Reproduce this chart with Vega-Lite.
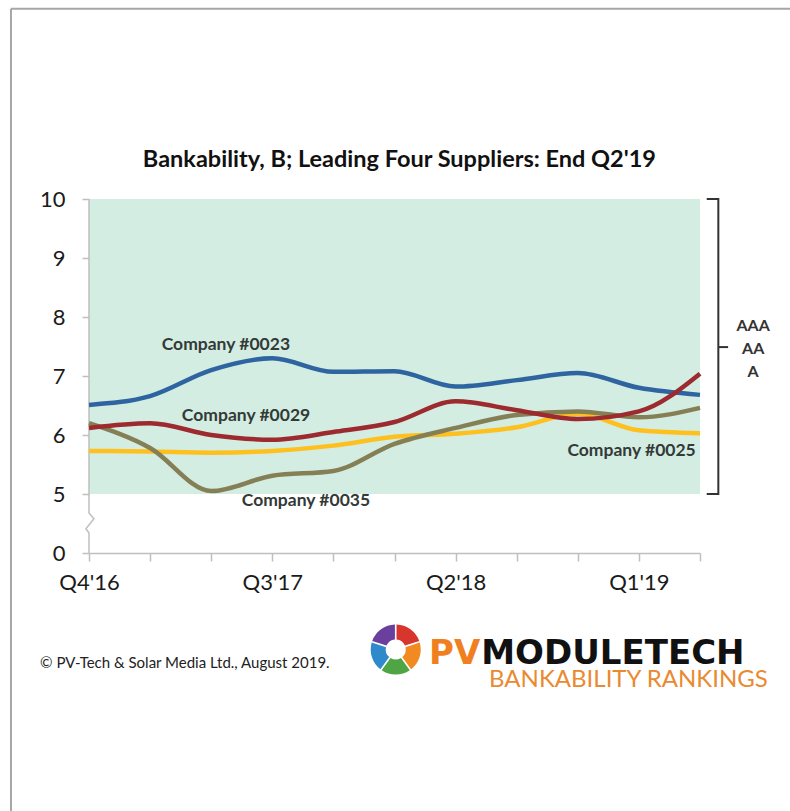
{
  "$schema": "https://vega.github.io/schema/vega-lite/v6.json",
  "width": 611,
  "height": 354,
  "autosize": "none",
  "padding": {"left": 89, "top": 199, "right": 90, "bottom": 258},
  "background": "white",
  "config": {
    "view": {"stroke": null},
    "font": "Lato",
    "axis": {"grid": false, "labelFont": "Lato", "labelFontSize": 22, "labelColor": "#1a1a1a", "tickColor": "#BFBFBF", "domainColor": "#BFBFBF", "tickWidth": 1.5, "domainWidth": 1.5, "labelOverlap": false}
  },
  "datasets": {
    "series": [
      {"q": 0, "company": "Company #0023", "b": 6.51},
      {"q": 1, "company": "Company #0023", "b": 6.66},
      {"q": 2, "company": "Company #0023", "b": 7.1},
      {"q": 3, "company": "Company #0023", "b": 7.3},
      {"q": 4, "company": "Company #0023", "b": 7.07},
      {"q": 5, "company": "Company #0023", "b": 7.08},
      {"q": 6, "company": "Company #0023", "b": 6.82},
      {"q": 7, "company": "Company #0023", "b": 6.93},
      {"q": 8, "company": "Company #0023", "b": 7.05},
      {"q": 9, "company": "Company #0023", "b": 6.8},
      {"q": 10, "company": "Company #0023", "b": 6.68},
      {"q": 0, "company": "Company #0025", "b": 5.73},
      {"q": 1, "company": "Company #0025", "b": 5.72},
      {"q": 2, "company": "Company #0025", "b": 5.7},
      {"q": 3, "company": "Company #0025", "b": 5.73},
      {"q": 4, "company": "Company #0025", "b": 5.82},
      {"q": 5, "company": "Company #0025", "b": 5.97},
      {"q": 6, "company": "Company #0025", "b": 6.02},
      {"q": 7, "company": "Company #0025", "b": 6.13},
      {"q": 8, "company": "Company #0025", "b": 6.36},
      {"q": 9, "company": "Company #0025", "b": 6.08},
      {"q": 10, "company": "Company #0025", "b": 6.03},
      {"q": 0, "company": "Company #0035", "b": 6.2},
      {"q": 1, "company": "Company #0035", "b": 5.78},
      {"q": 2, "company": "Company #0035", "b": 5.05},
      {"q": 3, "company": "Company #0035", "b": 5.31},
      {"q": 4, "company": "Company #0035", "b": 5.39},
      {"q": 5, "company": "Company #0035", "b": 5.85},
      {"q": 6, "company": "Company #0035", "b": 6.12},
      {"q": 7, "company": "Company #0035", "b": 6.34},
      {"q": 8, "company": "Company #0035", "b": 6.4},
      {"q": 9, "company": "Company #0035", "b": 6.3},
      {"q": 10, "company": "Company #0035", "b": 6.46},
      {"q": 0, "company": "Company #0029", "b": 6.12},
      {"q": 1, "company": "Company #0029", "b": 6.2},
      {"q": 2, "company": "Company #0029", "b": 6.0},
      {"q": 3, "company": "Company #0029", "b": 5.92},
      {"q": 4, "company": "Company #0029", "b": 6.05},
      {"q": 5, "company": "Company #0029", "b": 6.22},
      {"q": 6, "company": "Company #0029", "b": 6.57},
      {"q": 7, "company": "Company #0029", "b": 6.42},
      {"q": 8, "company": "Company #0029", "b": 6.27},
      {"q": 9, "company": "Company #0029", "b": 6.4},
      {"q": 10, "company": "Company #0029", "b": 7.04}
    ],
    "notes": [
      {"grp": "title", "t": "Bankability, B; Leading Four Suppliers: End Q2'19", "x": 5.08, "y": 10.54},
      {"grp": "label", "t": "Company #0023", "x": 2.24, "y": 7.44},
      {"grp": "label", "t": "Company #0029", "x": 2.57, "y": 6.23},
      {"grp": "label", "t": "Company #0035", "x": 3.55, "y": 4.79},
      {"grp": "label", "t": "Company #0025", "x": 8.88, "y": 5.64},
      {"grp": "rating", "t": "AAA", "x": 10.87, "y": 7.77},
      {"grp": "rating", "t": "AA", "x": 10.87, "y": 7.37},
      {"grp": "rating", "t": "A", "x": 10.87, "y": 6.98},
      {"grp": "footer", "t": "© PV-Tech & Solar Media Ltd., August 2019.", "x": -0.8, "y": 2.05},
      {"grp": "pv", "t": "PV", "x": 5.565, "y": 2.12},
      {"grp": "module", "t": "MODULETECH", "x": 6.42, "y": 2.12},
      {"grp": "rank", "t": "BANKABILITY RANKINGS", "x": 11.11, "y": 1.73}
    ],
    "bracket": [
      {"o": 0, "x": 10.11, "y": 10},
      {"o": 1, "x": 10.3, "y": 10},
      {"o": 2, "x": 10.3, "y": 5},
      {"o": 3, "x": 10.11, "y": 5}
    ],
    "yaxis": [
      {"o": 0, "x": 0, "y": 10},
      {"o": 1, "x": 0, "y": 4.68},
      {"o": 2, "x": 0.08, "y": 4.58},
      {"o": 3, "x": -0.05, "y": 4.41},
      {"o": 4, "x": 0, "y": 4.34},
      {"o": 5, "x": 0, "y": 4}
    ],
    "logo": [
      {"k": 1, "seg": "red", "share": 1},
      {"k": 2, "seg": "orange", "share": 1},
      {"k": 3, "seg": "green", "share": 1},
      {"k": 4, "seg": "blue", "share": 1},
      {"k": 5, "seg": "purple", "share": 1}
    ]
  },
  "resolve": {"scale": {"color": "independent"}},
  "layer": [
    {
      "data": {"values": [{}]},
      "mark": {"type": "rect", "color": "#D4EDE2"},
      "encoding": {
        "x": {"datum": 0, "type": "quantitative", "scale": {"domain": [0, 10], "nice": false, "zero": false},
          "axis": {"values": [0, 1, 2, 3, 4, 5, 6, 7, 8, 9, 10], "labelExpr": "datum.value==0?\"Q4'16\":datum.value==3?\"Q3'17\":datum.value==6?\"Q2'18\":datum.value==9?\"Q1'19\":''", "grid": false, "title": null, "domain": true, "ticks": true, "tickSize": 8, "labelPadding": 11, "labelFlush": false}},
        "x2": {"datum": 10},
        "y": {"datum": 5, "type": "quantitative", "scale": {"domain": [4, 10], "nice": false, "zero": false},
          "axis": {"values": [4, 5, 6, 7, 8, 9, 10], "format": "d", "labelExpr": "datum.value==4?'0':datum.label", "grid": false, "title": null, "domain": false, "ticks": true, "tickSize": 7, "labelPadding": 17}},
        "y2": {"datum": 10}
      }
    },
    {
      "data": {"name": "yaxis"},
      "mark": {"type": "line", "color": "#BFBFBF", "strokeWidth": 1.5, "clip": false},
      "encoding": {
        "x": {"field": "x", "type": "quantitative", "title": null},
        "y": {"field": "y", "type": "quantitative", "title": null},
        "order": {"field": "o"}
      }
    },
    {
      "data": {"name": "series"},
      "mark": {"type": "line", "interpolate": "monotone", "strokeWidth": 4.5, "clip": false},
      "encoding": {
        "x": {"field": "q", "type": "quantitative", "title": null},
        "y": {"field": "b", "type": "quantitative", "title": null},
        "color": {"field": "company", "type": "nominal", "legend": null,
          "scale": {"domain": ["Company #0025", "Company #0023", "Company #0035", "Company #0029"], "range": ["#FEC01E", "#2E64A0", "#857F56", "#9C2A2E"]}}
      }
    },
    {
      "data": {"name": "bracket"},
      "mark": {"type": "line", "color": "#333333", "strokeWidth": 2, "clip": false},
      "encoding": {
        "x": {"field": "x", "type": "quantitative", "title": null},
        "y": {"field": "y", "type": "quantitative", "title": null},
        "order": {"field": "o"}
      }
    },
    {
      "data": {"values": [{}]},
      "mark": {"type": "rule", "color": "#333333", "strokeWidth": 2, "clip": false},
      "encoding": {
        "x": {"datum": 10.3, "type": "quantitative"},
        "x2": {"datum": 10.46},
        "y": {"datum": 7.49, "type": "quantitative"}
      }
    },
    {
      "data": {"values": [{}]},
      "mark": {"type": "rule", "color": "#A6A6A6", "strokeWidth": 2, "clip": false},
      "encoding": {
        "x": {"datum": -1.277, "type": "quantitative"},
        "y": {"datum": 13.226, "type": "quantitative"},
        "y2": {"datum": -1}
      }
    },
    {
      "data": {"values": [{}]},
      "mark": {"type": "rule", "color": "#A6A6A6", "strokeWidth": 2, "clip": false},
      "encoding": {
        "x": {"datum": -1.277, "type": "quantitative"},
        "x2": {"datum": 12},
        "y": {"datum": 13.226, "type": "quantitative"}
      }
    },
    {
      "data": {"name": "notes"},
      "transform": [{"filter": "datum.grp == 'title'"}],
      "mark": {"type": "text", "font": "Lato", "fontSize": 23.5, "fontWeight": "bold", "color": "#111111", "align": "center", "baseline": "alphabetic", "clip": false},
      "encoding": {
        "x": {"field": "x", "type": "quantitative", "title": null},
        "y": {"field": "y", "type": "quantitative", "title": null},
        "text": {"field": "t"}
      }
    },
    {
      "data": {"name": "notes"},
      "transform": [{"filter": "datum.grp == 'label'"}],
      "mark": {"type": "text", "font": "Lato", "fontSize": 17.5, "fontWeight": "bold", "color": "#333a38", "align": "center", "baseline": "alphabetic", "clip": false},
      "encoding": {
        "x": {"field": "x", "type": "quantitative", "title": null},
        "y": {"field": "y", "type": "quantitative", "title": null},
        "text": {"field": "t"}
      }
    },
    {
      "data": {"name": "notes"},
      "transform": [{"filter": "datum.grp == 'rating'"}],
      "mark": {"type": "text", "font": "Lato", "fontSize": 16, "fontWeight": "bold", "color": "#333333", "align": "center", "baseline": "alphabetic", "clip": false},
      "encoding": {
        "x": {"field": "x", "type": "quantitative", "title": null},
        "y": {"field": "y", "type": "quantitative", "title": null},
        "text": {"field": "t"}
      }
    },
    {
      "data": {"name": "notes"},
      "transform": [{"filter": "datum.grp == 'footer'"}],
      "mark": {"type": "text", "font": "Lato", "fontSize": 15, "color": "#222222", "align": "left", "baseline": "alphabetic", "clip": false},
      "encoding": {
        "x": {"field": "x", "type": "quantitative", "title": null},
        "y": {"field": "y", "type": "quantitative", "title": null},
        "text": {"field": "t"}
      }
    },
    {
      "data": {"name": "notes"},
      "transform": [{"filter": "datum.grp == 'pv'"}],
      "mark": {"type": "text", "font": "DejaVu Sans", "fontSize": 34, "fontWeight": "bold", "color": "#F07F1F", "align": "left", "baseline": "alphabetic", "clip": false},
      "encoding": {
        "x": {"field": "x", "type": "quantitative", "title": null},
        "y": {"field": "y", "type": "quantitative", "title": null},
        "text": {"field": "t"}
      }
    },
    {
      "data": {"name": "notes"},
      "transform": [{"filter": "datum.grp == 'module'"}],
      "mark": {"type": "text", "font": "DejaVu Sans", "fontSize": 34, "fontWeight": "bold", "color": "#111111", "align": "left", "baseline": "alphabetic", "clip": false},
      "encoding": {
        "x": {"field": "x", "type": "quantitative", "title": null},
        "y": {"field": "y", "type": "quantitative", "title": null},
        "text": {"field": "t"}
      }
    },
    {
      "data": {"name": "notes"},
      "transform": [{"filter": "datum.grp == 'rank'"}],
      "mark": {"type": "text", "font": "Lato", "fontSize": 24, "color": "#EA8A30", "align": "right", "baseline": "alphabetic", "clip": false},
      "encoding": {
        "x": {"field": "x", "type": "quantitative", "title": null},
        "y": {"field": "y", "type": "quantitative", "title": null},
        "text": {"field": "t"}
      }
    },
    {
      "data": {"name": "logo"},
      "mark": {"type": "arc", "innerRadius": 10, "outerRadius": 25, "padAngle": 0.06, "clip": false},
      "encoding": {
        "x": {"datum": 5.02, "type": "quantitative"},
        "y": {"datum": 2.365, "type": "quantitative"},
        "theta": {"field": "share", "type": "quantitative", "stack": true},
        "order": {"field": "k"},
        "color": {"field": "seg", "type": "nominal", "legend": null,
          "scale": {"domain": ["red", "orange", "green", "blue", "purple"], "range": ["#D8352C", "#F18A21", "#4FA443", "#2F8ACB", "#6A3F9E"]}}
      }
    }
  ]
}
